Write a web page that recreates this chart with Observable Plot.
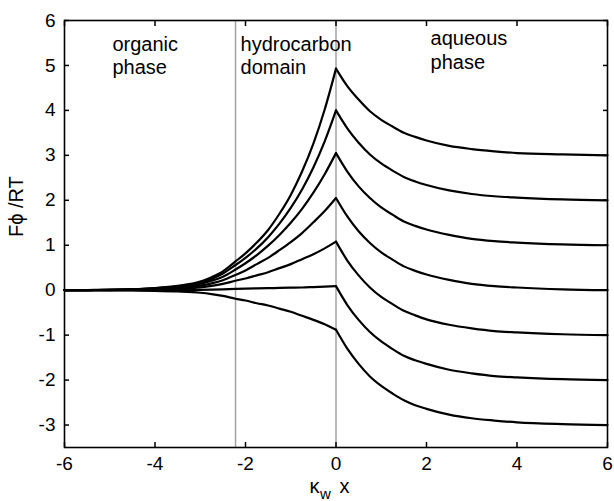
<!DOCTYPE html>
<html><head><meta charset="utf-8">
<script src="https://cdn.jsdelivr.net/npm/d3@7"></script>
<script src="https://cdn.jsdelivr.net/npm/@observablehq/plot@0.6"></script>
<style>html,body{margin:0;padding:0;background:#fff} svg{display:block}</style>
</head><body><div id="chart"></div>
<script>
// ---- data ----
const xTicks = [-6, -4, -2, 0, 2, 4, 6];
const yTicks = [-3, -2, -1, 0, 1, 2, 3, 4, 5, 6];
const boundaries = [-2.22, 0]; // organic | hydrocarbon | aqueous

const leftX  = [-6, -5.5, -5, -4.5, -4, -3.5, -3, -2.75, -2.5, -2.22, -2, -1.75, -1.5, -1.25, -1, -0.75, -0.5, -0.25, 0];
const rightX = [0, 0.25, 0.5, 0.75, 1, 1.25, 1.5, 1.75, 2, 2.5, 3, 3.5, 4, 5, 6];

const curveNames = ["A", "B", "C", "D", "E", "F", "G"];
const leftA = [0, 0.003, 0.01, 0.022, 0.048, 0.096, 0.19, 0.29, 0.42, 0.64, 0.82, 1.06, 1.34, 1.70, 2.12, 2.64, 3.26, 4.02, 4.93];
const leftB = [0, 0.003, 0.008, 0.02, 0.042, 0.084, 0.17, 0.25, 0.37, 0.56, 0.72, 0.93, 1.18, 1.48, 1.83, 2.24, 2.73, 3.31, 4.0];
const leftC = [0, 0.002, 0.007, 0.016, 0.035, 0.069, 0.14, 0.21, 0.30, 0.46, 0.60, 0.78, 0.99, 1.23, 1.50, 1.81, 2.17, 2.58, 3.05];
const leftD = [0, 0.002, 0.005, 0.012, 0.026, 0.051, 0.10, 0.15, 0.22, 0.34, 0.44, 0.58, 0.72, 0.89, 1.07, 1.27, 1.51, 1.76, 2.05];
const leftE = [0, 0.001, 0.003, 0.007, 0.016, 0.032, 0.063, 0.095, 0.14, 0.21, 0.26, 0.33, 0.40, 0.49, 0.58, 0.69, 0.80, 0.93, 1.08];
const leftF = [0, 0, 0, 0.001, 0.002, 0.005, 0.009, 0.014, 0.02, 0.03, 0.035, 0.04, 0.045, 0.05, 0.055, 0.06, 0.07, 0.08, 0.09];
const leftG = [0, -0.001, -0.003, -0.007, -0.014, -0.029, -0.057, -0.086, -0.125, -0.19, -0.23, -0.29, -0.34, -0.41, -0.48, -0.57, -0.66, -0.76, -0.88];

const rightA = [4.93, 4.54, 4.24, 3.98, 3.79, 3.64, 3.50, 3.41, 3.33, 3.21, 3.14, 3.09, 3.05, 3.02, 3.0];
const rightB = [4.0, 3.60, 3.28, 3.02, 2.82, 2.66, 2.52, 2.42, 2.34, 2.22, 2.14, 2.09, 2.06, 2.02, 2.0];
const rightC = [3.05, 2.64, 2.31, 2.05, 1.84, 1.68, 1.53, 1.43, 1.35, 1.23, 1.14, 1.09, 1.06, 1.02, 1.0];
const rightD = [2.05, 1.64, 1.31, 1.05, 0.84, 0.68, 0.53, 0.43, 0.35, 0.23, 0.14, 0.09, 0.06, 0.02, 0];
const rightE = [1.08, 0.66, 0.33, 0.06, -0.15, -0.31, -0.46, -0.56, -0.65, -0.77, -0.85, -0.91, -0.94, -0.98, -1];
const rightF = [0.09, -0.33, -0.66, -0.93, -1.14, -1.31, -1.46, -1.56, -1.64, -1.77, -1.85, -1.91, -1.94, -1.98, -2];
const rightG = [-0.88, -1.30, -1.64, -1.92, -2.13, -2.30, -2.45, -2.56, -2.64, -2.77, -2.85, -2.90, -2.94, -2.98, -3];

const annotationText = ["organic\nphase", "hydrocarbon\ndomain", "aqueous\nphase"];
const annotationX = [-4.94, -2.11, 2.09];
const annotationY = [4.81, 4.81, 4.93];

const yLabel = "F\u03D5 /RT";

// ---- build tables ----
const leftSeries = [leftA, leftB, leftC, leftD, leftE, leftF, leftG];
const rightSeries = [rightA, rightB, rightC, rightD, rightE, rightF, rightG];
const rows = [];
curveNames.forEach((name, i) => {
  leftX.forEach((x, j) => rows.push({key: name + "-L", x, y: leftSeries[i][j]}));
  rightX.forEach((x, j) => rows.push({key: name + "-R", x, y: rightSeries[i][j]}));
});
const annotations = annotationText.map((t, i) => ({t, x: annotationX[i], y: annotationY[i]}));

const font = "'Liberation Sans', Arial, Helvetica, sans-serif";

const chart = Plot.plot({
  width: 614,
  height: 501,
  marginLeft: 64,
  marginRight: 7,
  marginTop: 20,
  marginBottom: 54,
  style: {fontFamily: font, fontSize: "19px", color: "black", background: "white"},
  x: {domain: [-6, 6]},
  y: {domain: [-3.5, 6]},
  marks: [
    Plot.ruleX(boundaries, {stroke: "#a3a3a3", strokeWidth: 1.5}),
    Plot.line(rows, {x: "x", y: "y", z: "key", curve: "monotone-x", stroke: "black", strokeWidth: 2.2}),
    Plot.frame({stroke: "black", strokeWidth: 1.6}),
    Plot.axisX(xTicks, {anchor: "bottom", tickSize: -5, tickPadding: 14, strokeWidth: 1.5, label: null, tickFormat: d => String(d)}),
    Plot.axisX(xTicks, {anchor: "top", tickSize: -5, strokeWidth: 1.5, label: null, tickFormat: () => null}),
    Plot.axisY(yTicks, {anchor: "left", tickSize: -5, tickPadding: 14, strokeWidth: 1.5, label: null, tickFormat: d => String(d)}),
    Plot.axisY(yTicks, {anchor: "right", tickSize: -5, strokeWidth: 1.5, label: null, tickFormat: () => null}),
    Plot.text(annotations, {x: "x", y: "y", text: "t", textAnchor: "start", lineAnchor: "bottom", lineHeight: 1.17, fontSize: 20, fill: "black"}),
    Plot.text([yLabel], {text: d => d, frameAnchor: "left", dx: -48, dy: 3, rotate: -90, fontSize: 20, fill: "black"})
  ]
});

// x-axis label with subscript
const sx = chart.scale("x");
const x0 = sx.apply(0);
const lbl = d3.select(chart).append("text")
  .attr("y", 493)
  .attr("font-family", font)
  .attr("font-size", 20)
  .attr("fill", "black");
lbl.append("tspan").attr("x", x0 - 21).text("\u03BA");
lbl.append("tspan").attr("x", x0 - 10).attr("dy", 6).attr("font-size", 15).text("w");
lbl.append("tspan").attr("x", x0 + 9).attr("dy", -6).text("x");

document.getElementById("chart").append(chart);
</script></body></html>
